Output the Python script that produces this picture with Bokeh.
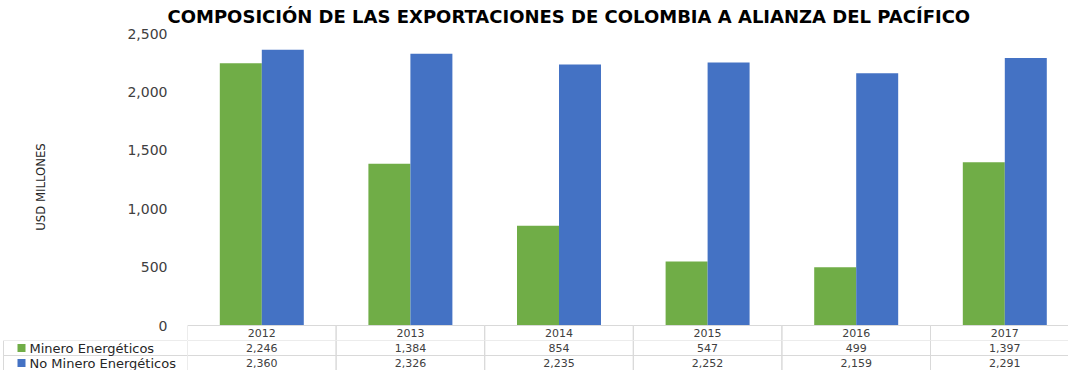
from bokeh.plotting import figure
from bokeh.models import (Range1d, FactorRange, FixedTicker, NumeralTickFormatter,
                          ColumnDataSource)
from bokeh.layouts import column, row
from bokeh.transform import dodge
from bokeh.core.properties import value
from bokeh.embed import file_html
from bokeh.resources import INLINE

# ---------------- data ----------------
years = ["2012", "2013", "2014", "2015", "2016", "2017"]
minero = [2246, 1384, 854, 547, 499, 1397]
no_minero = [2360, 2326, 2235, 2252, 2159, 2291]
series_names = ["Minero Energéticos", "No Minero Energéticos"]
y_ticks = [0, 500, 1000, 1500, 2000, 2500]
title_text = "COMPOSICIÓN DE LAS EXPORTACIONES DE COLOMBIA A ALIANZA DEL PACÍFICO"
y_label = "USD MILLONES"

GREEN = "#70AD47"
BLUE = "#4472C4"
GRID = "#d9d9d9"
TXT = "#404040"
FONT = "DejaVu Sans"

# ---------------- layout constants (pixels) ----------------
LEFT = 187            # left edge of plot frame / table columns
TOP = 33              # top of frame (value 2500)
PLOT_H = 292          # pixel height of 0..2500
HEAD_H = 15           # year header row height
ROW_H = 15            # each value row height
CAT_W = 148.6         # pixel width of one category
W = 1068
frame_w = W - LEFT
scale = PLOT_H / 2500.0
ymin = -HEAD_H / scale

idx = list(range(len(years)))
src = ColumnDataSource(dict(x=idx, year=years, minero=minero, no_minero=no_minero))

x_range = Range1d(-0.5, -0.5 + frame_w / CAT_W)

# ---------------- bar chart (+ year header row) ----------------
p = figure(width=W, height=TOP + PLOT_H + HEAD_H, x_range=x_range,
           y_range=Range1d(ymin, 2500),
           output_backend="svg", toolbar_location=None, x_axis_location=None,
           min_border_left=LEFT, min_border_right=0, min_border_top=TOP,
           min_border_bottom=0, outline_line_color=None)

p.title.text = title_text
p.title.text_font = FONT
p.title.text_font_style = "bold"
p.title.text_font_size = "18px"
p.title.text_color = "#000000"
p.title.text_line_height = 0.75
p.title.align = "left"
p.title.vertical_align = "top"
p.title.offset = -20
p.title.standoff = 10

bw = 0.2826
p.vbar(x=dodge("x", -bw / 2, range=x_range), top="minero", width=bw, source=src,
       fill_color=GREEN, line_color=None)
p.vbar(x=dodge("x", bw / 2, range=x_range), top="no_minero", width=bw, source=src,
       fill_color=BLUE, line_color=None)

# header row of the data table (years)
p.rect(x="x", y=ymin / 2, width=1, height=-ymin, source=src, fill_color=None,
       line_color=GRID, line_width=1)
p.text(x="x", y=ymin / 2, text="year", source=src, text_align="center",
       text_baseline="middle", text_font=value(FONT), text_font_size="11px",
       text_color=TXT)

p.xgrid.visible = False
p.ygrid.visible = False
ax = p.yaxis[0]
ax.ticker = FixedTicker(ticks=y_ticks)
ax.formatter = NumeralTickFormatter(format="0,0")
ax.axis_line_color = None
ax.major_tick_line_color = None
ax.minor_tick_line_color = None
ax.major_tick_out = 0
ax.major_label_standoff = 20
ax.major_label_text_font = FONT
ax.major_label_text_font_size = "14px"
ax.major_label_text_color = TXT
ax.axis_label = y_label
ax.axis_label_text_font = "DejaVu Sans Condensed, Roboto, sans-serif"
ax.axis_label_text_font_size = "13px"
ax.axis_label_text_font_style = "normal"
ax.axis_label_text_color = "#262626"
ax.axis_label_standoff = 76

# ---------------- value rows of the data table ----------------
row_range = FactorRange(factors=series_names[::-1])

cx, cy, ct = [], [], []
for i in idx:
    cx.append(i); cy.append(series_names[0]); ct.append(f"{minero[i]:,}")
    cx.append(i); cy.append(series_names[1]); ct.append(f"{no_minero[i]:,}")
cells = ColumnDataSource(dict(x=cx, row=cy, text=ct))

t = figure(width=frame_w, height=2 * ROW_H, x_range=x_range, y_range=row_range,
           output_backend="svg", toolbar_location=None,
           x_axis_location=None, y_axis_location=None, min_border=0,
           outline_line_color=None)
t.xgrid.visible = False
t.ygrid.visible = False
t.rect(x="x", y="row", width=1, height=1, source=cells, fill_color=None,
       line_color=GRID, line_width=1)
t.text(x="x", y="row", text="text", source=cells, text_align="center",
       text_baseline="middle", text_font=value(FONT), text_font_size="11px",
       text_color=TXT)

# left column: series keys
lg = figure(width=LEFT, height=2 * ROW_H, x_range=Range1d(0, LEFT), y_range=row_range,
            output_backend="svg", toolbar_location=None,
            x_axis_location=None, y_axis_location=None, min_border=0,
            outline_line_color=None)
lg.xgrid.visible = False
lg.ygrid.visible = False
leg_src = ColumnDataSource(dict(row=series_names, color=[GREEN, BLUE]))
lg.rect(x=(LEFT + 3) / 2, y="row", width=LEFT - 3, height=1, source=leg_src,
        fill_color=None, line_color=GRID, line_width=1)
lg.scatter(x=21, y="row", marker="square", size=8, source=leg_src,
           fill_color="color", line_color=None)
lg.text(x=29, y="row", text="row", source=leg_src, text_align="left",
        text_baseline="middle", text_font=value(FONT), text_font_size="13px",
        text_color="#262626")

layout = column(p, row(lg, t, spacing=0), spacing=0)

open("out.html", "w").write(file_html(layout, INLINE))
